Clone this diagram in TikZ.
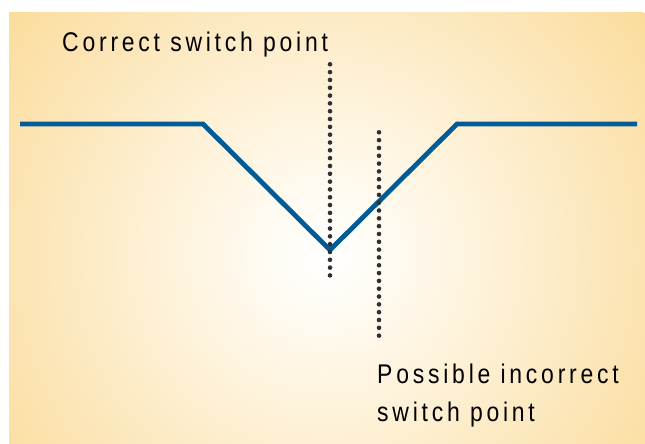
\documentclass[tikz,border=0pt]{standalone}
\usepackage{fontspec}
\newfontfamily\labelfont{Liberation Sans}[FakeStretch=0.85,LetterSpace=14]
\usetikzlibrary{positioning}
\definecolor{sand}{HTML}{FAD68C}
\definecolor{cream}{HTML}{FFFBF2}
\definecolor{trace}{HTML}{005B96}
\definecolor{bk90}{HTML}{303034}
\pgfdeclareradialshading{glow}{\pgfpointorigin}{color(0bp)=(white); color(4bp)=(cream); color(29bp)=(sand); color(50bp)=(sand)}
\tikzset{
  curve/.style={draw=trace, line width=4.8pt, line join=miter},
  marker/.style={draw=bk90, line width=4.6pt, line cap=round,
    dash pattern=on 0pt off 7.82pt},
  caption/.style={font=\labelfont\fontsize{27}{38}\selectfont,
    inner sep=0pt, align=left},
}

\begin{document}
\begin{tikzpicture}[x=1pt, y=-1pt]
  % canvas
  \useasboundingbox (0,0) rectangle (645,444);
  \fill[white] (0,0) rectangle (645,444);
  \fill[sand] (9,13) rectangle (645,444);
  \begin{scope}
    \clip (9,13) rectangle (645,444);
    \shade[shading=glow] (325,255) circle (400pt);
  \end{scope}

  % switching curve
  \coordinate (lstart) at (20,124);
  \coordinate (lknee) at (203,124);
  \coordinate (vtip) at (330,250);
  \coordinate (rknee) at (457,124);
  \coordinate (rend) at (637,124);
  \draw[curve] (lstart) -- (lknee) -- (vtip) -- (rknee) -- (rend);

  % switch points
  \coordinate (goodtop) at (330,64.3);
  \coordinate (goodbot) at (330,275.7);
  \coordinate (badtop) at (379,132.3);
  \coordinate (badbot) at (379,343.3);
  \draw[marker] (goodtop) -- (goodbot);
  \draw[marker] (badtop) -- (badbot);

  % labels
  \node[caption, anchor=base west] (goodlabel) at (62,52) {Correct switch point};
  \node[caption, anchor=base west] (badlabel) at (377,421) {Possible incorrect\\switch point};
\end{tikzpicture}
\end{document}
